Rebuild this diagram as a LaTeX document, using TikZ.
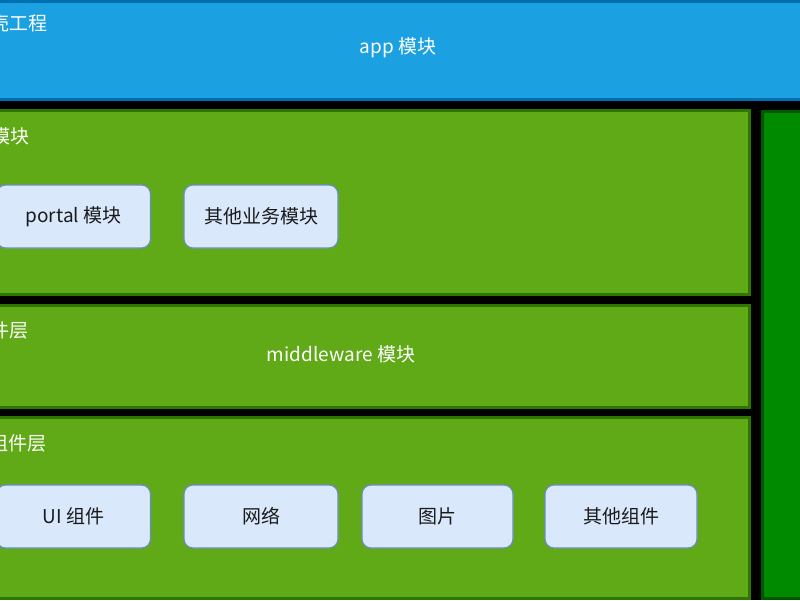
\documentclass[tikz,border=0pt]{standalone}
\usepackage{fontspec}
\setmainfont{Noto Sans CJK SC}
\usepackage{tikz}
\definecolor{appfill}{HTML}{1BA1E2}
\definecolor{appline}{HTML}{006EAF}
\definecolor{layerfill}{HTML}{60A917}
\definecolor{layerline}{HTML}{2D7600}
\definecolor{sidefill}{HTML}{008A00}
\definecolor{sideline}{HTML}{005700}
\definecolor{modfill}{HTML}{DAE8FC}
\definecolor{modline}{HTML}{6C8EBF}
\definecolor{modtext}{HTML}{1A1A1A}

\begin{document}
\begin{tikzpicture}[x=1pt,y=-1pt,
  layer/.style={draw=layerline,fill=layerfill,line width=3pt,inner sep=0pt},
  modbox/.style={draw=modline,fill=modfill,line width=1.2pt,rounded corners=9pt,
    minimum width=154pt,minimum height=63pt,inner sep=0pt,text=modtext,
    font=\fontsize{19}{22}\selectfont},
  title/.style={text=white,inner sep=0pt,font=\fontsize{19}{22}\selectfont}]
\tikzstyle{every node}+=[anchor=center]
\fill [black] (0,0) rectangle (800,600);
\useasboundingbox (0,0) rectangle (800,600);
\clip (0,0) rectangle (800,600);
% shell
\node [draw=appline,fill=appfill,line width=3pt,inner sep=0pt,minimum width=840pt,minimum height=98pt] (shell) at (400,50) {};
\node [title,anchor=east] (shelltitle) at (48,23) {壳工程};
\node [title] (applbl) at (398,48) {app 模块};
% side column
\node [draw=sideline,fill=sidefill,line width=3pt,inner sep=0pt,minimum width=58pt,minimum height=487pt] (side) at (791,355) {};
% business layer
\node [layer,minimum width=769pt,minimum height=184pt] (biz) at (364.5,202) {};
\node [title,anchor=east] (biztitle) at (30,136) {业务模块};
\node [modbox] (portal) at (73.5,216.5) {portal 模块};
\node [modbox] (otherbiz) at (261,216.5) {其他业务模块};
% middleware layer
\node [layer,minimum width=769pt,minimum height=102pt] (mid) at (364.5,356) {};
\node [title,anchor=east] (midtitle) at (29,330) {中间件层};
\node [title] (midlbl) at (341,354) {middleware 模块};
% base components
\node [layer,minimum width=769pt,minimum height=181pt] (base) at (364.5,508) {};
\node [title,anchor=east] (basetitle) at (47,443) {基础组件层};
\node [modbox] (ui) at (73.5,516.5) {UI 组件};
\node [modbox] (net) at (261,516.5) {网络};
\node [modbox,minimum width=151pt] (img) at (437.5,516.5) {图片};
\node [modbox,minimum width=152pt] (othercomp) at (621,516.5) {其他组件};
\end{tikzpicture}
\end{document}
